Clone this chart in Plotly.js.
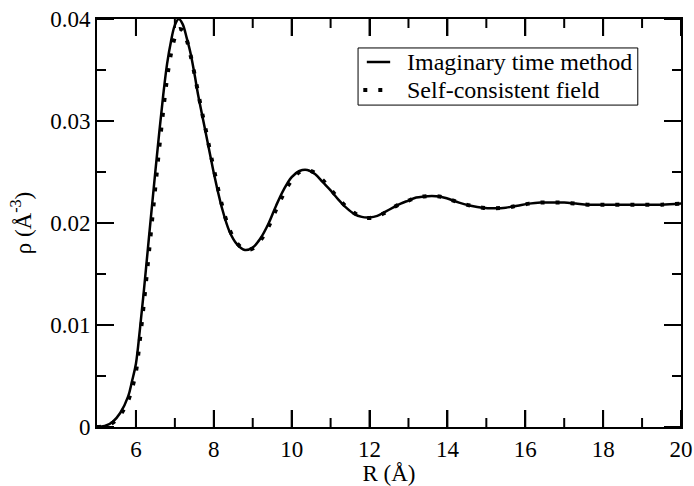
<!DOCTYPE html>
<html>
<head>
<meta charset="utf-8">
<script src="https://cdn.plot.ly/plotly-3.0.1.min.js"></script>
<style>html,body{margin:0;padding:0;background:#fff;}#chart{width:694px;height:486px;}</style>
</head>
<body>
<div id="chart"></div>
<script>
const R_itm = [5.0,5.2,5.4,5.6,5.8,5.9,6.0,6.1,6.2,6.3,6.4,6.5,6.6,6.7,6.8,6.9,7.0,7.1,7.2,7.3,7.4,7.5,7.6,7.7,7.8,7.9,8.0,8.2,8.4,8.6,8.8,9.0,9.2,9.4,9.6,9.8,10.0,10.2,10.4,10.6,10.8,11.0,11.2,11.4,11.6,11.8,12.0,12.2,12.4,12.6,12.8,13.0,13.2,13.4,13.6,13.8,14.0,14.3,14.6,14.9,15.2,15.5,15.8,16.1,16.4,16.7,17.0,17.3,17.6,17.9,18.2,18.6,19.0,19.5,20.0];
const rho_itm = [0.0000,0.0001,0.0005,0.0014,0.0030,0.0045,0.0062,0.0095,0.0132,0.0172,0.0212,0.0251,0.0289,0.0325,0.0356,0.0378,0.0394,0.0400,0.0395,0.0382,0.0367,0.0347,0.0325,0.0306,0.0287,0.0268,0.0249,0.0216,0.0192,0.0179,0.01735,0.0176,0.0185,0.0199,0.0217,0.0233,0.0245,0.0251,0.0252,0.0248,0.0240,0.0232,0.0223,0.0215,0.0209,0.0206,0.02055,0.0207,0.0211,0.0215,0.0219,0.0222,0.0225,0.0226,0.02265,0.0226,0.0224,0.0220,0.0217,0.0215,0.02145,0.0215,0.0217,0.0219,0.0220,0.0220,0.0220,0.0219,0.0218,0.0218,0.0218,0.0218,0.0218,0.0218,0.0219];
const R_scf = [5.0,5.2,5.4,5.6,5.8,5.9,6.0,6.1,6.2,6.3,6.4,6.5,6.6,6.7,6.8,6.9,7.0,7.1,7.2,7.3,7.4,7.5,7.6,7.7,7.8,7.9,8.0,8.2,8.4,8.6,8.8,9.0,9.2,9.4,9.6,9.8,10.0,10.2,10.4,10.6,10.8,11.0,11.2,11.4,11.6,11.8,12.0,12.2,12.4,12.6,12.8,13.0,13.2,13.4,13.6,13.8,14.0,14.3,14.6,14.9,15.2,15.5,15.8,16.1,16.4,16.7,17.0,17.3,17.6,17.9,18.2,18.6,19.0,19.5,20.0];
const rho_scf = [0.0000,0.0001,0.0004,0.0012,0.0026,0.0038,0.0054,0.0085,0.0120,0.0158,0.0197,0.0236,0.0274,0.0310,0.0342,0.0366,0.0382,0.0390,0.0389,0.0380,0.0365,0.0347,0.0327,0.0308,0.0290,0.0271,0.0253,0.0219,0.0194,0.0180,0.0174,0.0175,0.0183,0.0196,0.0213,0.0229,0.0242,0.0250,0.0252,0.0249,0.0242,0.0233,0.0224,0.0216,0.0210,0.0206,0.0205,0.0207,0.0210,0.0215,0.0219,0.0222,0.0225,0.0226,0.02265,0.0226,0.0224,0.0220,0.0217,0.0215,0.02145,0.0215,0.0217,0.0219,0.0220,0.0220,0.0220,0.0219,0.0218,0.0218,0.0218,0.0218,0.0218,0.0218,0.0219];
const names = ["Imaginary time method", "Self-consistent field"];
const xRange = [5, 20];
const yRange = [0, 0.04];
const xMajorTicks = [6, 8, 10, 12, 14, 16, 18, 20];
const xMinorTicks = [7, 9, 11, 13, 15, 17, 19];
const yMajorTicks = [0, 0.01, 0.02, 0.03, 0.04];
const yMinorTicks = [0.005, 0.015, 0.025, 0.035];

const W = 694, H = 486, M = {l: 97, r: 13, t: 19, b: 59};
const xPerPx = (xRange[1] - xRange[0]) / (W - M.l - M.r);
const yPerPx = (yRange[1] - yRange[0]) / (H - M.t - M.b);

const SOLID = {color: "#000", width: 2.5};
const DOTTED = {color: "#000", width: 4, dash: "4px,11px"};
const TICKLINE = {color: "#000", width: 2};
function mkFont(sz) { return {family: "Liberation Serif", size: sz, color: "#000"}; }
const traces = [
  {x: R_itm, y: rho_itm, name: names[0], mode: "lines", line: Object.assign({shape: "spline"}, SOLID)},
  {x: R_scf, y: rho_scf, name: names[1], mode: "lines", line: Object.assign({shape: "spline"}, DOTTED)}
];
function mkAxis(extra) {
  return Object.assign({showline: true, linecolor: "#000", linewidth: 2, mirror: "allticks", ticks: "inside",
    tickwidth: 2, tickcolor: "#000", showgrid: false, zeroline: false, layer: "above traces",
    tickfont: mkFont(23)}, extra);
}
// inside tick marks on all four sides, in axis units
function xTick(v, len) {
  return [
    {type: "line", xref: "x", yref: "y", x0: v, x1: v, y0: yRange[0], y1: yRange[0] + len * yPerPx, line: TICKLINE},
    {type: "line", xref: "x", yref: "y", x0: v, x1: v, y0: yRange[1], y1: yRange[1] - len * yPerPx, line: TICKLINE}
  ];
}
function yTick(v, len) {
  return [
    {type: "line", xref: "x", yref: "y", y0: v, y1: v, x0: xRange[0], x1: xRange[0] + len * xPerPx, line: TICKLINE},
    {type: "line", xref: "x", yref: "y", y0: v, y1: v, x0: xRange[1], x1: xRange[1] - len * xPerPx, line: TICKLINE}
  ];
}
let tickShapes = [];
xMajorTicks.forEach(function (v) { tickShapes = tickShapes.concat(xTick(v, 17)); });
xMinorTicks.forEach(function (v) { tickShapes = tickShapes.concat(xTick(v, 9)); });
yMajorTicks.forEach(function (v) { tickShapes = tickShapes.concat(yTick(v, 17)); });
yMinorTicks.forEach(function (v) { tickShapes = tickShapes.concat(yTick(v, 9)); });

// legend box drawn in paper coordinates
const lg = {x0: 0.447, x1: 0.926, y0: 0.789, y1: 0.929, sx0: 0.462, sx1: 0.502, tx: 0.527, rows: [0.8946, 0.826]};
const legendShapes = [
  {type: "rect", xref: "paper", yref: "paper", x0: lg.x0, x1: lg.x1, y0: lg.y0, y1: lg.y1,
   line: {color: "#000", width: 1}, fillcolor: "#fff"},
  {type: "line", xref: "paper", yref: "paper", x0: lg.sx0, x1: lg.sx1, y0: lg.rows[0], y1: lg.rows[0], line: SOLID},
  {type: "line", xref: "paper", yref: "paper", x0: lg.sx0 - 0.006, x1: lg.sx1, y0: lg.rows[1], y1: lg.rows[1], line: DOTTED}
];
const layout = {
  width: W, height: H,
  margin: M,
  paper_bgcolor: "#fff", plot_bgcolor: "#fff",
  font: mkFont(23),
  showlegend: false,
  xaxis: mkAxis({range: xRange, tickvals: xMajorTicks, ticklen: 17,
    title: {text: "R (Å)", font: mkFont(23), standoff: 6}}),
  yaxis: mkAxis({range: yRange, tickvals: yMajorTicks, ticktext: yMajorTicks.map(String), ticklen: 17,
    title: {text: "ρ (Å<sup>-3</sup>)", font: mkFont(23), standoff: 12}}),
  shapes: tickShapes.concat(legendShapes),
  annotations: names.map(function (n, i) {
    return {text: n, xref: "paper", yref: "paper", x: lg.tx, y: lg.rows[i], xanchor: "left", yanchor: "middle",
      showarrow: false, font: mkFont(24)};
  })
};
Plotly.newPlot("chart", traces, layout, {displayModeBar: false, staticPlot: true});
</script>
</body>
</html>
